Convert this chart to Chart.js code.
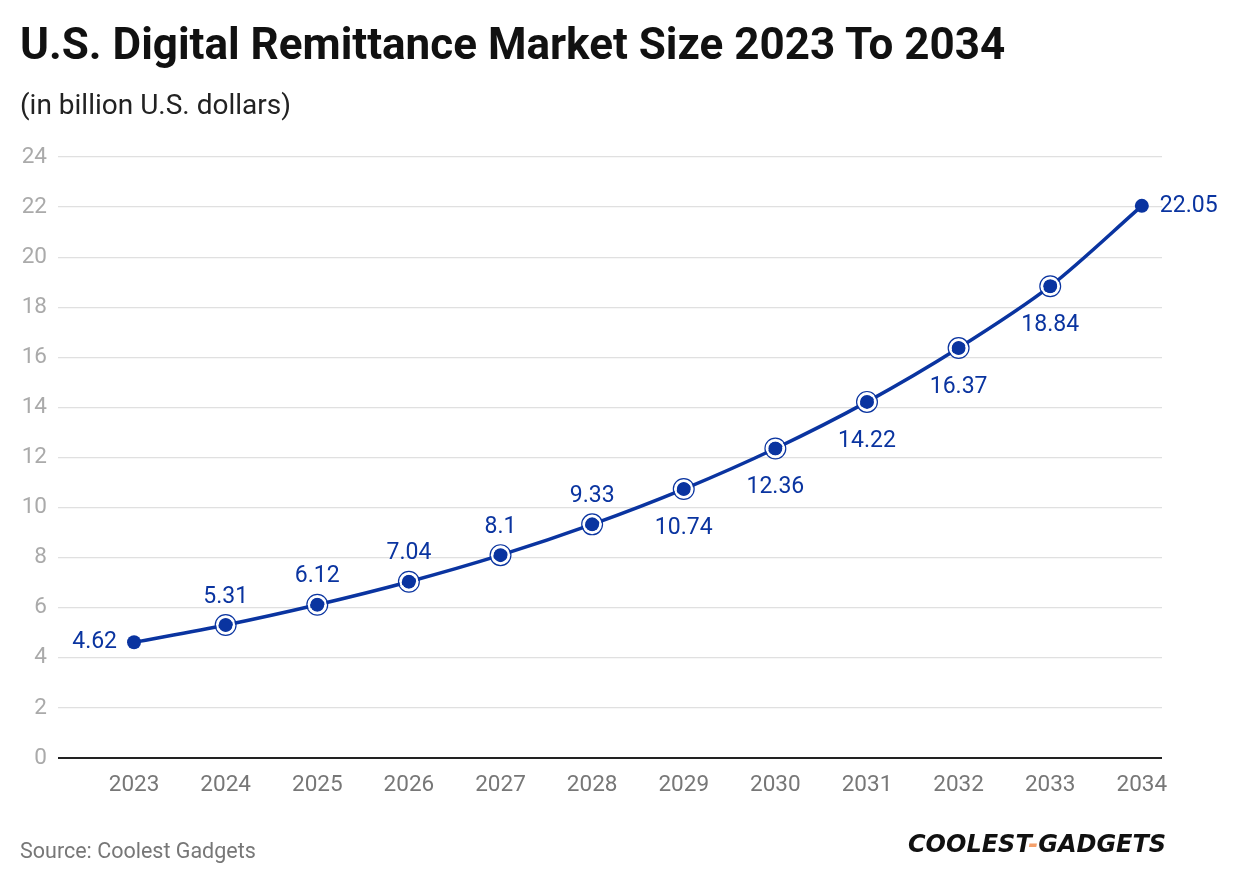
<!DOCTYPE html>
<html>
<head>
<meta charset="utf-8">
<script src="https://cdn.jsdelivr.net/npm/chart.js@4.4.1/dist/chart.umd.min.js"></script>
<style>
  html, body { margin: 0; padding: 0; background: #fff; }
  #wrap { position: relative; width: 1240px; height: 884px; overflow: hidden; font-family: Roboto, "Noto Sans", sans-serif; }
  #title { position: absolute; left: 20px; top: 18px; font-size: 44px; line-height: 52px; font-weight: 700; color: #111; white-space: nowrap; }
  #subtitle { position: absolute; left: 20px; top: 88px; font-size: 28px; line-height: 34px; color: #222; white-space: nowrap; }
  #source { position: absolute; left: 20px; top: 837px; font-size: 21.5px; line-height: 28px; color: #777; white-space: nowrap; }
  #logo { position: absolute; left: 908px; top: 829px; font-size: 24px; line-height: 30px; font-weight: 900; font-style: italic; color: #111; white-space: nowrap; font-family: "DejaVu Sans", sans-serif; }
  #logo span { color: #f4a06b; }
  canvas { position: absolute; left: 0; top: 0; }
</style>
</head>
<body>
<div id="wrap">
  <canvas id="c" width="1240" height="884"></canvas>
  <div id="title">U.S. Digital Remittance Market Size 2023 To 2034</div>
  <div id="subtitle">(in billion U.S. dollars)</div>
  <div id="source">Source: Coolest Gadgets</div>
  <div id="logo">COOLEST<span>-</span>GADGETS</div>
</div>
<script>
const years = [2023, 2024, 2025, 2026, 2027, 2028, 2029, 2030, 2031, 2032, 2033, 2034];
const marketSize = [4.62, 5.31, 6.12, 7.04, 8.1, 9.33, 10.74, 12.36, 14.22, 16.37, 18.84, 22.05];
const yTicks = [0, 2, 4, 6, 8, 10, 12, 14, 16, 18, 20, 22, 24];
const labelPlacement = ['left', 'top', 'top', 'top', 'top', 'top', 'bottom', 'bottom', 'bottom', 'bottom', 'bottom', 'right'];

const BLUE = '#0a34a0';

const labelPlugin = {
  id: 'valueLabels',
  afterDatasetsDraw(chart) {
    const ctx = chart.ctx;
    const meta = chart.getDatasetMeta(0);
    ctx.save();
    meta.data.forEach((pt, i) => {
      if (i === 0 || i === meta.data.length - 1) return;
      ctx.beginPath();
      ctx.arc(pt.x, pt.y, 8.4, 0, Math.PI * 2);
      ctx.strokeStyle = '#fff';
      ctx.lineWidth = 2.2;
      ctx.stroke();
      ctx.beginPath();
      ctx.arc(pt.x, pt.y, 10.4, 0, Math.PI * 2);
      ctx.strokeStyle = BLUE;
      ctx.lineWidth = 1.2;
      ctx.stroke();
    });
    ctx.font = '23px Roboto, "Noto Sans", sans-serif';
    ctx.fillStyle = BLUE;
    meta.data.forEach((pt, i) => {
      const txt = String(marketSize[i]);
      const p = labelPlacement[i];
      let x = pt.x, y = pt.y;
      ctx.textBaseline = 'middle';
      if (p === 'left') { ctx.textAlign = 'right'; x -= 17; }
      else if (p === 'right') { ctx.textAlign = 'left'; x += 18; }
      else if (p === 'top') { ctx.textAlign = 'center'; y -= 28; }
      else { ctx.textAlign = 'center'; y += 39; }
      ctx.fillText(txt, x, y);
    });
    ctx.restore();
  }
};

new Chart(document.getElementById('c'), {
  type: 'line',
  data: {
    datasets: [{
      data: years.map((yr, i) => ({ x: yr, y: marketSize[i] })),
      borderColor: BLUE,
      backgroundColor: BLUE,
      borderWidth: 3.5,
      pointRadius: 7,
      pointBackgroundColor: BLUE,
      pointBorderWidth: 0,
      tension: 0.3,
      fill: false
    }]
  },
  options: {
    responsive: false,
    animation: false,
    layout: { padding: { top: 157, left: 0, right: 78, bottom: 76 } },
    plugins: { legend: { display: false }, tooltip: { enabled: false }, title: { display: false } },
    scales: {
      x: {
        type: 'linear',
        min: 2022.17,
        max: 2034.22,
        grid: { display: false },
        border: { display: false },
        afterBuildTicks(scale) { scale.ticks = years.map(v => ({ value: v })); },
        afterFit(scale) { scale.height = 50; },
        ticks: {
          padding: 6,
          color: '#777',
          font: { size: 22.5, family: 'Roboto, "Noto Sans", sans-serif' },
          callback: v => String(v),
          maxRotation: 0,
          autoSkip: false
        }
      },
      y: {
        min: 0,
        max: 24,
        afterBuildTicks(scale) { scale.ticks = yTicks.map(v => ({ value: v })); },
        afterFit(scale) { scale.width = 58; },
        border: { display: false },
        grid: {
          drawTicks: false,
          color: ctx => ctx.tick && ctx.tick.value === 0 ? '#222' : '#e0e0e0',
          lineWidth: ctx => ctx.tick && ctx.tick.value === 0 ? 2 : 1.2
        },
        ticks: {
          padding: 11,
          color: '#aaa',
          font: { size: 22.5, family: 'Roboto, "Noto Sans", sans-serif' }
        }
      }
    }
  },
  plugins: [labelPlugin]
});
</script>
</body>
</html>
